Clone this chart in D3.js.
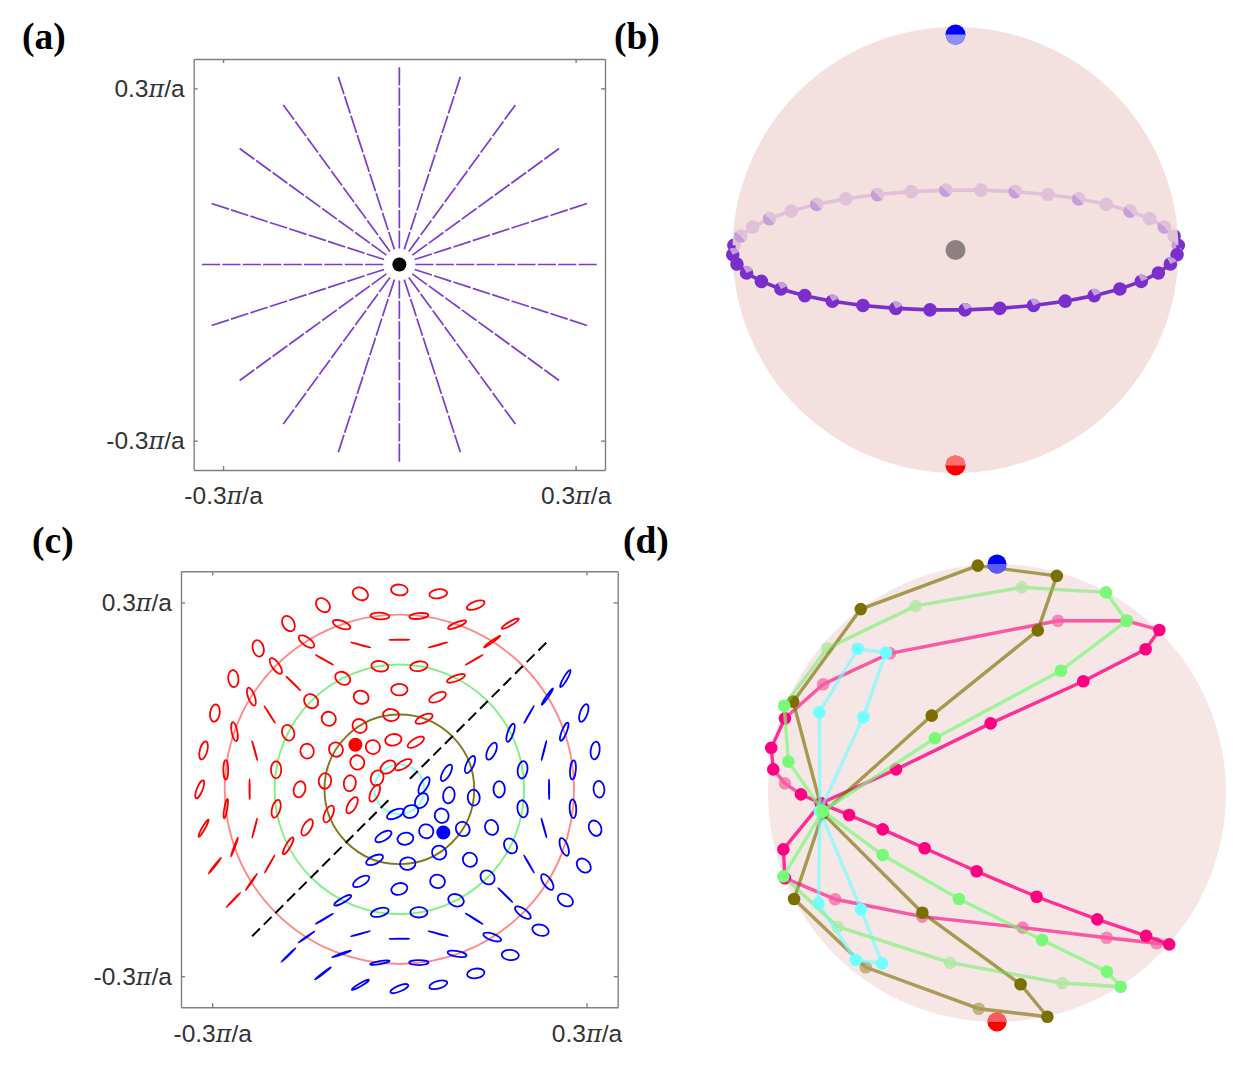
<!DOCTYPE html>
<html>
<head>
<meta charset="utf-8">
<title>Polarization vortex on the Poincare sphere</title>
<script src="https://cdn.jsdelivr.net/npm/d3@7"></script>
<style>
    html, body { margin: 0; padding: 0; background: #fff; }
    svg { display: block; }
    .tick_label { font-family: "Liberation Sans", Arial, sans-serif; font-size: 24.5px; fill: #333; }
    .pi_glyph { font-family: "DejaVu Serif", serif; font-style: italic; font-size: 24px; }
    .panel_letter { font-family: "Liberation Serif", serif; font-weight: bold; font-size: 37.5px; fill: #000; }
</style>
</head>
<body>
<svg id="chart" width="1233" height="1067"></svg>
<script>
////////// DATA //////////

const TICK_VALUES = [-0.3, 0.3];
const TICK_LABELS = ["-0.3π/a", "0.3π/a"];
const PANEL_LETTERS = [["(a)", 22, 49], ["(b)", 614, 49], ["(c)", 32, 553], ["(d)", 623, 553]];

// panel (a): direction of each radial line, in degrees
const RAY_ANGLES = [0, 18, 36, 54, 72, 90, 108, 126, 144, 162, 180, 198, 216, 234, 252, 270, 288, 306, 324, 342];
const RAY_INNER_K = 0.0265;
const RAY_OUTER_K = 0.336;

// panel (b): longitude of each point along the equator, in degrees
const RING_LONGITUDES = [2.3, 11.3, 20.3, 29.3, 38.3, 47.3, 56.3, 65.3, 74.3, 83.3,
    92.3, 101.3, 110.3, 119.3, 128.3, 137.3, 146.3, 155.3, 164.3, 173.3,
    182.3, 191.3, 200.3, 209.3, 218.3, 227.3, 236.3, 245.3, 254.3, 263.3,
    272.3, 281.3, 290.3, 299.3, 308.3, 317.3, 326.3, 335.3, 344.3, 353.3];

// panel (c): rows are [angle around the centre, tilt of long axis, minor/major ratio], per |k| ring
const RED_K04 = [[81, 30, .4], [117, 35, .7], [153, 70, .8], [189, 65, .45]];
const RED_K08 = [[70.7, 30, .4], [96.9, 10, .7], [122, -30, .95], [147.4, -60, .95], [173, 80, .75], [198.7, 60, .45]];
const RED_K12 = [[70.7, 25, .4], [96.4, -5, .75], [122.1, -40, .9], [147.9, -60, .95], [173.6, 85, .8], [199.3, 65, .45]];
const RED_K16 = [[67.5, 25, .45], [90, 0, .7], [112.5, -20, .85], [135, -45, .95], [157.5, -80, .9], [180, 75, .7], [202.5, 60, .45]];
const RED_K20 = [[63, 20, .3], [81, 8, .55], [99, -8, .6], [117, -30, .75], [135, -45, .85], [153, -70, .75], [171, 90, .6], [189, 75, .45], [207, 60, .25]];
const RED_K24 = [[60, 30, .015], [75, 15, .015], [90, 0, .015], [105, -15, .015], [120, -30, .015], [135, -45, .015], [150, -58, .015], [165, -75, .015], [180, 90, .015], [195, 75, .015], [210, 60, .015]];
const RED_K28 = [[57.9, 35, .1], [70.7, 22, .25], [83.6, 5, .3], [96.4, -3, .35], [109.3, -20, .4], [122.1, -35, .45], [135, -55, .4], [147.9, -70, .35], [160.7, -80, .3], [173.6, 90, .25], [186.4, 80, .15], [199.3, 70, .05], [212.1, 55, .03]];
const RED_K32 = [[56.25, 30, .2], [67.5, 20, .4], [78.75, 8, .5], [90, -5, .65], [101.25, -25, .75], [112.5, -45, .75], [123.75, -60, .7], [135, -75, .65], [146.25, -85, .6], [157.5, 82, .55], [168.75, 75, .4], [180, 68, .3], [191.25, 60, .15], [202.5, 52, .05], [213.75, 46, .03]];

const BLUE_K04 = [[9, 60, .4], [-27, 55, .7], [-63, 20, .8], [-99, 25, .45]];
const BLUE_K08 = [[19.3, 60, .4], [-6.9, 80, .7], [-32, 120, .95], [-57.4, 150, .95], [-83, 10, .75], [-108.7, 30, .45]];
const BLUE_K12 = [[19.3, 65, .4], [-6.4, 95, .75], [-32.1, 130, .9], [-57.9, 150, .95], [-83.6, 5, .8], [-109.3, 25, .45]];
const BLUE_K16 = [[22.5, 65, .45], [0, 90, .7], [-22.5, 110, .85], [-45, 135, .95], [-67.5, 170, .9], [-90, 15, .7], [-112.5, 30, .45]];
const BLUE_K20 = [[27, 70, .3], [9, 82, .55], [-9, 98, .6], [-27, 120, .75], [-45, 135, .85], [-63, 160, .75], [-81, 0, .6], [-99, 15, .45], [-117, 30, .25]];
const BLUE_K24 = [[30, 60, .015], [15, 75, .015], [0, 90, .015], [-15, 105, .015], [-30, 120, .015], [-45, 135, .015], [-60, 148, .015], [-75, 165, .015], [-90, 0, .015], [-105, 15, .015], [-120, 30, .015]];
const BLUE_K28 = [[32.1, 55, .1], [19.3, 68, .25], [6.4, 85, .3], [-6.4, 93, .35], [-19.3, 110, .4], [-32.1, 125, .45], [-45, 145, .4], [-57.9, 160, .35], [-70.7, 170, .3], [-83.6, 0, .25], [-96.4, 10, .15], [-109.3, 20, .05], [-122.1, 35, .03]];
const BLUE_K32 = [[33.75, 60, .2], [22.5, 70, .4], [11.25, 82, .5], [0, 95, .65], [-11.25, 115, .75], [-22.5, 135, .75], [-33.75, 150, .7], [-45, 165, .65], [-56.25, 175, .6], [-67.5, 8, .55], [-78.75, 15, .4], [-90, 22, .3], [-101.25, 30, .15], [-112.5, 38, .05], [-123.75, 44, .03]];

const RING_K = [0.04, 0.08, 0.12, 0.16, 0.20, 0.24, 0.28, 0.32];
const RED_RINGS = [RED_K04, RED_K08, RED_K12, RED_K16, RED_K20, RED_K24, RED_K28, RED_K32];
const BLUE_RINGS = [BLUE_K04, BLUE_K08, BLUE_K12, BLUE_K16, BLUE_K20, BLUE_K24, BLUE_K28, BLUE_K32];

const GUIDE_CIRCLES = [[0.04, "#80ffff"], [0.12, "#80781e"], [0.20, "#80f080"], [0.28, "#ff8888"]];
const DIAGONAL_PARTS = [[[0.017, 0.017], [0.237, 0.237]], [[-0.0176, -0.0176], [-0.2365, -0.2365]]];
const RED_DOT = [-0.0705, 0.0715];
const BLUE_DOT = [0.0705, -0.0694];

// panel (d): rows are [x, y, on front of sphere] on the unit disc
const PINK_LOOP = [[-.769, -.045, 1], [-.441, .103, 1], [-.028, .304, 1], [.377, .488, 1], [.649, .628, 1], [.709, .712, 1],
    [.566, .752, 0], [.266, .752, 0], [-.467, .610, 0], [-.759, .475, 0], [-.926, .326, 1], [-.986, .197, 1], [-.977, .103, 1],
    [-.926, .042, 0], [-.856, -.006, 1], [-.769, -.045, 1], [-.646, -.096, 1], [-.499, -.159, 1], [-.316, -.241, 1], [-.089, -.342, 1],
    [.173, -.453, 1], [.438, -.552, 1], [.651, -.624, 1], [.752, -.661, 1], [.697, -.656, 0], [.479, -.632, 0], [.112, -.588, 0],
    [-.326, -.540, 0], [-.707, -.464, 0], [-.926, -.372, 1], [-.933, -.246, 1]];
const GREEN_LOOP = [[-.761, -.079, 1], [-.271, .239, 1], [.279, .534, 1], [.566, .752, 1], [.476, .876, 1], [.108, .898, 0], [-.355, .817, 0],
    [-.741, .632, 0], [-.929, .381, 1], [-.911, .137, 1], [-.761, -.079, 1], [-.499, -.271, 1], [-.166, -.463, 1], [.197, -.642, 1],
    [.480, -.780, 1], [.540, -.846, 1], [.285, -.830, 0], [-.205, -.741, 0], [-.696, -.584, 0], [-.933, -.364, 1]];
const OLIVE_LOOP = [[-.761, -.089, 1], [-.285, .338, 1], [.178, .710, 1], [.261, .948, 1], [-.084, .993, 1], [-.595, .803, 1], [-.890, .399, 1],
    [-.761, -.089, 1], [-.326, -.523, 1], [.103, -.835, 1], [.220, -.977, 1], [-.080, -.942, 0], [-.573, -.761, 0], [-.886, -.463, 1]];
const CYAN_LOOP = [[-.773, -.079, 1], [-.584, .331, 1], [-.485, .613, 1], [-.608, .630, 1], [-.776, .352, 1],
    [-.773, -.079, 1], [-.594, -.508, 1], [-.502, -.744, 1], [-.617, -.729, 1], [-.780, -.482, 1]];

const LOOP_COLORS = ["#ff0080", "#7a7000", "#70ffff", "#78fa78"];
const LOOP_LINE_OPACITY = [0.8, 0.65, 0.65, 0.7];
const LOOPS = [PINK_LOOP, OLIVE_LOOP, CYAN_LOOP, GREEN_LOOP];

////////// HELPERS //////////

const svg = d3.select("#chart");
const arc = d3.arc();

/**
 * Draws the grey frame with its four sets of inward ticks. Only left and bottom get labels.
 */
function draw_frame(x, y) {
    let [left, right] = x.range();
    let [bottom, top] = y.range();
    let tick_format = function(d) { return TICK_LABELS[TICK_VALUES.indexOf(d)]; };
    let axes = [
        [d3.axisBottom(x).tickFormat(tick_format).tickPadding(17), 0, bottom],
        [d3.axisTop(x).tickFormat(""), 0, top],
        [d3.axisLeft(y).tickFormat(tick_format).tickPadding(9), left, 0],
        [d3.axisRight(y).tickFormat(""), right, 0]
    ];
    axes.forEach(function(a) {
        let g = svg.append("g")
            .attr("transform", "translate(" + a[1] + "," + a[2] + ")")
            .call(a[0].tickValues(TICK_VALUES).tickSizeInner(-4).tickSizeOuter(0));
        g.selectAll("path, line").attr("stroke", "#808080").attr("stroke-width", 1.4);
        g.selectAll("text").attr("class", "tick_label").attr("fill", null)
            .each(function() {
                let parts = d3.select(this).text().split("π");
                if (parts.length < 2) return;
                let t = d3.select(this).text(parts[0]);
                t.append("tspan").attr("class", "pi_glyph").text("π");
                t.append("tspan").text(parts[1]);
            });
    });
}

function draw_half_dot(cx, cy, r, color, veil, veil_on_bottom) {
    svg.append("circle").attr("cx", cx).attr("cy", cy).attr("r", r).attr("fill", color);
    let start = veil_on_bottom ? Math.PI / 2 : -Math.PI / 2;
    svg.append("path")
        .attr("transform", "translate(" + cx + "," + cy + ")")
        .attr("d", arc({innerRadius: 0, outerRadius: r, startAngle: start, endAngle: start + Math.PI}))
        .attr("fill", veil);
}

////////// PANEL A //////////

const x_a = d3.scaleLinear().domain([-0.35, 0.35]).range([193.7, 605]);
const y_a = d3.scaleLinear().domain([-0.35, 0.35]).range([470, 59]);

draw_frame(x_a, y_a);

svg.append("g").selectAll("line")
    .data(RAY_ANGLES)
    .enter()
    .append("line")
    .attr("x1", d => x_a(RAY_OUTER_K * Math.cos(d * Math.PI / 180)))
    .attr("y1", d => y_a(RAY_OUTER_K * Math.sin(d * Math.PI / 180)))
    .attr("x2", d => x_a(RAY_INNER_K * Math.cos(d * Math.PI / 180)))
    .attr("y2", d => y_a(RAY_INNER_K * Math.sin(d * Math.PI / 180)))
    .attr("stroke", "#7d3bd0")
    .attr("stroke-width", 1.7)
    .attr("stroke-dasharray", "18.2,2.2");

svg.append("circle").attr("cx", x_a(0)).attr("cy", y_a(0)).attr("r", 7).attr("fill", "#000");

////////// PANEL B //////////

const x_b = d3.scaleLinear().domain([-1, 1]).range([732.5, 1178.5]);
const y_b = d3.scaleLinear().domain([-1, 1]).range([473, 27]);
const RING_FLATTEN = 0.269;

const ring_x = d => x_b(Math.cos(d * Math.PI / 180));
const ring_y = d => y_b(RING_FLATTEN * Math.sin(d * Math.PI / 180));
const ring_line = d3.line().x(ring_x).y(ring_y);
const ring_back = RING_LONGITUDES.filter(d => d < 180);
const ring_front = RING_LONGITUDES.filter(d => d >= 180);

function draw_ring(parent, data, closed_with) {
    parent.append("path")
        .attr("d", ring_line(closed_with.concat(data)))
        .attr("fill", "none")
        .attr("stroke", "#7a2fcc")
        .attr("stroke-width", 3.6);
    parent.append("g").selectAll("circle")
        .data(data)
        .enter()
        .append("circle")
        .attr("cx", ring_x)
        .attr("cy", ring_y)
        .attr("r", 6.8)
        .attr("fill", "#7a2fcc");
}

function draw_facets(parent, data, centre, span, color) {
    parent.append("g").selectAll("path")
        .data(data.filter(d => RING_LONGITUDES.indexOf(d) % 2 == 0))
        .enter()
        .append("path")
        .attr("transform", d => "translate(" + ring_x(d) + "," + ring_y(d) + ")")
        .attr("d", arc({
            innerRadius: 0, outerRadius: 6.8,
            startAngle: (centre - span / 2) * Math.PI / 180,
            endAngle: (centre + span / 2) * Math.PI / 180
        }))
        .attr("fill", color);
}

// the ring sits slightly rolled in the picture
const roll_b = "rotate(-0.6," + x_b(0) + "," + y_b(0) + ")";
const ring_under = svg.append("g").attr("transform", roll_b);
draw_ring(ring_under, ring_back, []);

svg.append("circle")
    .attr("cx", x_b(0)).attr("cy", y_b(0)).attr("r", x_b(1) - x_b(0))
    .attr("fill", "#f2dbd9").attr("fill-opacity", 0.85);

const ring_over = svg.append("g").attr("transform", roll_b);
draw_facets(ring_over, ring_back, 225, 170, "#c59fdb");
draw_ring(ring_over, ring_front, [ring_back[ring_back.length - 1]]);
draw_facets(ring_over, ring_front, 20, 95, "#c59fdb");
ring_over.append("path")
    .attr("d", ring_line([ring_front[ring_front.length - 1], ring_back[0]]))
    .attr("stroke", "#7a2fcc").attr("stroke-width", 3.6);

svg.append("circle").attr("cx", x_b(0)).attr("cy", y_b(0)).attr("r", 10).attr("fill", "#8c8080");
draw_half_dot(x_b(0), y_b(0.966), 10, "#0000ff", "#8f8ff0", true);
draw_half_dot(x_b(0), y_b(-0.966), 10, "#ff0000", "#ff7070", false);

////////// PANEL C //////////

const x_c = d3.scaleLinear().domain([-0.35, 0.35]).range([181, 617.7]);
const y_c = d3.scaleLinear().domain([-0.35, 0.35]).range([1007.3, 571.3]);
const ELLIPSE_SIZE = 10;

draw_frame(x_c, y_c);

svg.append("g").selectAll("circle")
    .data(GUIDE_CIRCLES)
    .enter()
    .append("circle")
    .attr("cx", x_c(0))
    .attr("cy", y_c(0))
    .attr("r", d => x_c(d[0]) - x_c(0))
    .attr("fill", "none")
    .attr("stroke", d => d[1])
    .attr("stroke-width", 1.9);

function draw_ellipses(rings, color) {
    rings.forEach(function(ring, i) {
        let k = RING_K[i];
        svg.append("g").selectAll("ellipse")
            .data(ring)
            .enter()
            .append("ellipse")
            .attr("transform", function(d) {
                let px = x_c(k * Math.cos(d[0] * Math.PI / 180));
                let py = y_c(k * Math.sin(d[0] * Math.PI / 180));
                return "translate(" + px + "," + py + ") rotate(" + (-d[1]) + ")";
            })
            .attr("rx", d => ELLIPSE_SIZE / Math.sqrt(1 + d[2] * d[2]))
            .attr("ry", d => ELLIPSE_SIZE * d[2] / Math.sqrt(1 + d[2] * d[2]))
            .attr("fill", "none")
            .attr("stroke", color)
            .attr("stroke-width", 1.8);
    });
}

draw_ellipses(RED_RINGS, "#ff0000");
draw_ellipses(BLUE_RINGS, "#0000ff");

svg.append("g").selectAll("line")
    .data(DIAGONAL_PARTS)
    .enter()
    .append("line")
    .attr("x1", d => x_c(d[0][0]))
    .attr("y1", d => y_c(d[0][1]))
    .attr("x2", d => x_c(d[1][0]))
    .attr("y2", d => y_c(d[1][1]))
    .attr("stroke", "#000")
    .attr("stroke-width", 2)
    .attr("stroke-dasharray", "11,5.5");

svg.append("circle").attr("cx", x_c(RED_DOT[0])).attr("cy", y_c(RED_DOT[1])).attr("r", 7).attr("fill", "#ff0000");
svg.append("circle").attr("cx", x_c(BLUE_DOT[0])).attr("cy", y_c(BLUE_DOT[1])).attr("r", 7).attr("fill", "#0000ff");

////////// PANEL D //////////

const x_d = d3.scaleLinear().domain([-1, 1]).range([768, 1226]);
const y_d = d3.scaleLinear().domain([-1, 1]).range([1022, 564]);
const loop_line = d3.line().x(d => x_d(d[0])).y(d => y_d(d[1]));

function loop_segments(loop) {
    return loop.map((d, i) => [d, loop[(i + 1) % loop.length]]);
}

function draw_loop_lines(loop, i, keep, opacity) {
    svg.append("g").selectAll("path")
        .data(loop_segments(loop).filter(keep))
        .enter()
        .append("path")
        .attr("d", s => loop_line(s))
        .attr("stroke", LOOP_COLORS[i])
        .attr("stroke-opacity", opacity)
        .attr("stroke-width", 3.4);
}

function draw_loop_dots(loop, i, keep) {
    svg.append("g").selectAll("circle")
        .data(loop.filter(keep))
        .enter()
        .append("circle")
        .attr("cx", d => x_d(d[0]))
        .attr("cy", d => y_d(d[1]))
        .attr("r", 6.3)
        .attr("fill", LOOP_COLORS[i]);
}

const is_front_segment = s => s[0][2] && s[1][2];
const is_back_segment = s => !is_front_segment(s);

// back of the sphere goes under the veil, front goes over it
LOOPS.forEach(function(loop, i) {
    draw_loop_lines(loop, i, is_back_segment, 1);
    draw_loop_dots(loop, i, d => !d[2]);
});

svg.append("circle")
    .attr("cx", x_d(0)).attr("cy", y_d(0)).attr("r", x_d(1) - x_d(0))
    .attr("fill", "#f1d8d8").attr("fill-opacity", 0.63);

LOOPS.forEach(function(loop, i) {
    // back lines keep more colour than the back dots do
    draw_loop_lines(loop, i, is_back_segment, 0.35);
    draw_loop_lines(loop, i, is_front_segment, LOOP_LINE_OPACITY[i]);
    draw_loop_dots(loop, i, d => d[2]);
});

draw_half_dot(x_d(0), y_d(1), 9.5, "#0000ff", "#5a5af5", true);
draw_half_dot(x_d(0), y_d(-1), 9.5, "#ff0000", "#ff5a5a", false);

////////// LETTERS //////////

svg.append("g").selectAll("text")
    .data(PANEL_LETTERS)
    .enter()
    .append("text")
    .attr("class", "panel_letter")
    .attr("x", d => d[1])
    .attr("y", d => d[2])
    .text(d => d[0]);
</script>
</body>
</html>
